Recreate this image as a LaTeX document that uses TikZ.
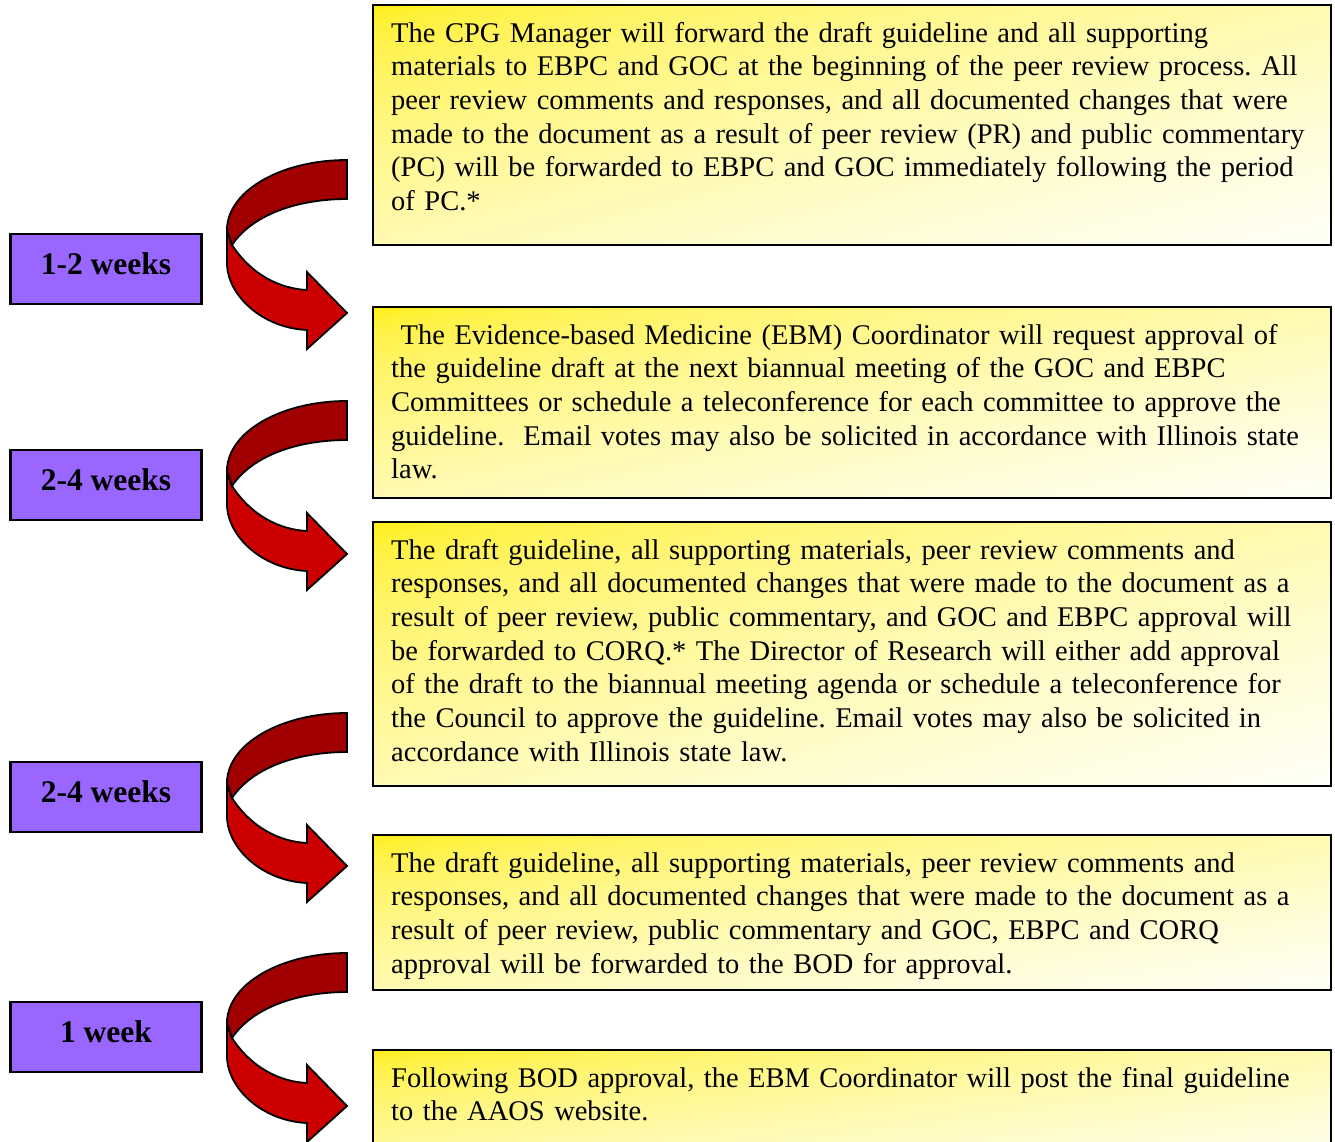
\documentclass[tikz,border=0pt]{standalone}
\usepackage{fontspec}
\setmainfont{Liberation Serif}
\usepackage{xcolor}
\usetikzlibrary{positioning}

\definecolor{weekpurple}{RGB}{153,102,255}
\definecolor{arrowdark}{RGB}{160,0,0}
\definecolor{arrowred}{RGB}{204,0,0}

% yellow to white, from the upper left corner to the lower right one
\pgfdeclarefunctionalshading{notefill}{\pgfpoint{-50bp}{-50bp}}{\pgfpoint{50bp}{50bp}}{}{
  sub 50 add 100 div abs sqrt
  dup 0.07 mul 0.93 add exch 0.95 mul 0.02 add
  1 3 1 roll
}

% curved turn-around arrow, drawn from its upper end
\newcommand{\turnarrow}[1]{%
  \begin{scope}[shift={(#1)}, line width=1.8pt, line join=miter]
    \filldraw[fill=arrowred] (-115,85) .. controls (-100,108) and (-75,128) .. (-40,130)
      -- (-40,112) -- (0,153) -- (-40,189) -- (-40,170)
      .. controls (-85,168) and (-120,135) .. (-120,103) -- (-120,70) -- cycle;
    \filldraw[fill=arrowdark] (0,0) .. controls (-66,0) and (-120,31) .. (-120,70)
      -- (-115,85) .. controls (-95,55) and (-50,39) .. (0,39) -- cycle;
  \end{scope}}

\begin{document}
\begin{tikzpicture}[x=1pt, y=-1pt,
    weekbox/.style={draw, line width=2.5pt, fill=weekpurple, minimum width=191pt, minimum height=70pt,
      inner sep=0pt, text depth=10pt, font=\fontsize{31.5}{36}\selectfont\bfseries},
    stepbox/.style={draw, line width=2pt, anchor=north west, minimum width=958pt, inner sep=0pt,
      shade, shading=notefill, shading angle=0},
    steptext/.style={below right=38pt and 19pt of #1.north west, anchor=base west,
      text width=950pt, align=left, inner sep=0pt,
      font=\fontsize{28.5}{33.7}\selectfont\frenchspacing}]
		\useasboundingbox (0,0) rectangle (1335,1141);
		
		% Step boxes
		\node (step1) [stepbox, minimum height=240pt] at (372,4) {};
		\node (step2) [stepbox, minimum height=191pt] at (372,306) {};
		\node (step3) [stepbox, minimum height=264pt] at (372,521) {};
		\node (step4) [stepbox, minimum height=155pt] at (372,834) {};
		\node (step5) [stepbox, minimum height=130pt] at (372,1049) {};
		
		% Step texts
		\node (note1) [steptext=step1] {The CPG Manager will forward the draft guideline and all supporting\\
			materials to EBPC and GOC at the beginning of the peer review process. All\\
			peer review comments and responses, and all documented changes that were\\
			made to the document as a result of peer review (PR) and public commentary\\
			(PC) will be forwarded to EBPC and GOC immediately following the period\\
			of PC.*};
		\node (note2) [steptext=step2] {\mbox{}\ The Evidence-based Medicine (EBM) Coordinator will request approval of\\
			the guideline draft at the next biannual meeting of the GOC and EBPC\\
			Committees or schedule a teleconference for each committee to approve the\\
			guideline.\ \ Email votes may also be solicited in accordance with Illinois state\\
			law.};
		\node (note3) [steptext=step3] {The draft guideline, all supporting materials, peer review comments and\\
			responses, and all documented changes that were made to the document as a\\
			result of peer review, public commentary, and GOC and EBPC approval will\\
			be forwarded to CORQ.* The Director of Research will either add approval\\
			of the draft to the biannual meeting agenda or schedule a teleconference for\\
			the Council to approve the guideline. Email votes may also be solicited in\\
			accordance with Illinois state law.};
		\node (note4) [steptext=step4] {The draft guideline, all supporting materials, peer review comments and\\
			responses, and all documented changes that were made to the document as a\\
			result of peer review, public commentary and GOC, EBPC and CORQ\\
			approval will be forwarded to the BOD for approval.};
		\node (note5) [steptext=step5] {Following BOD approval, the EBM Coordinator will post the final guideline\\
			to the AAOS website.};
		
		% Durations
		\node (week1) [weekbox] at (106,269) {1-2 weeks};
		\node (week2) [weekbox] at (106,485) {2-4 weeks};
		\node (week3) [weekbox] at (106,797) {2-4 weeks};
		\node (week4) [weekbox] at (106,1037) {1 week};
		
		% Arrows
		\coordinate (turn1) at (347,160);
		\coordinate (turn2) at (347,401);
		\coordinate (turn3) at (347,713);
		\coordinate (turn4) at (347,953);
		\turnarrow{turn1}
		\turnarrow{turn2}
		\turnarrow{turn3}
		\turnarrow{turn4}
	\end{tikzpicture}
\end{document}
